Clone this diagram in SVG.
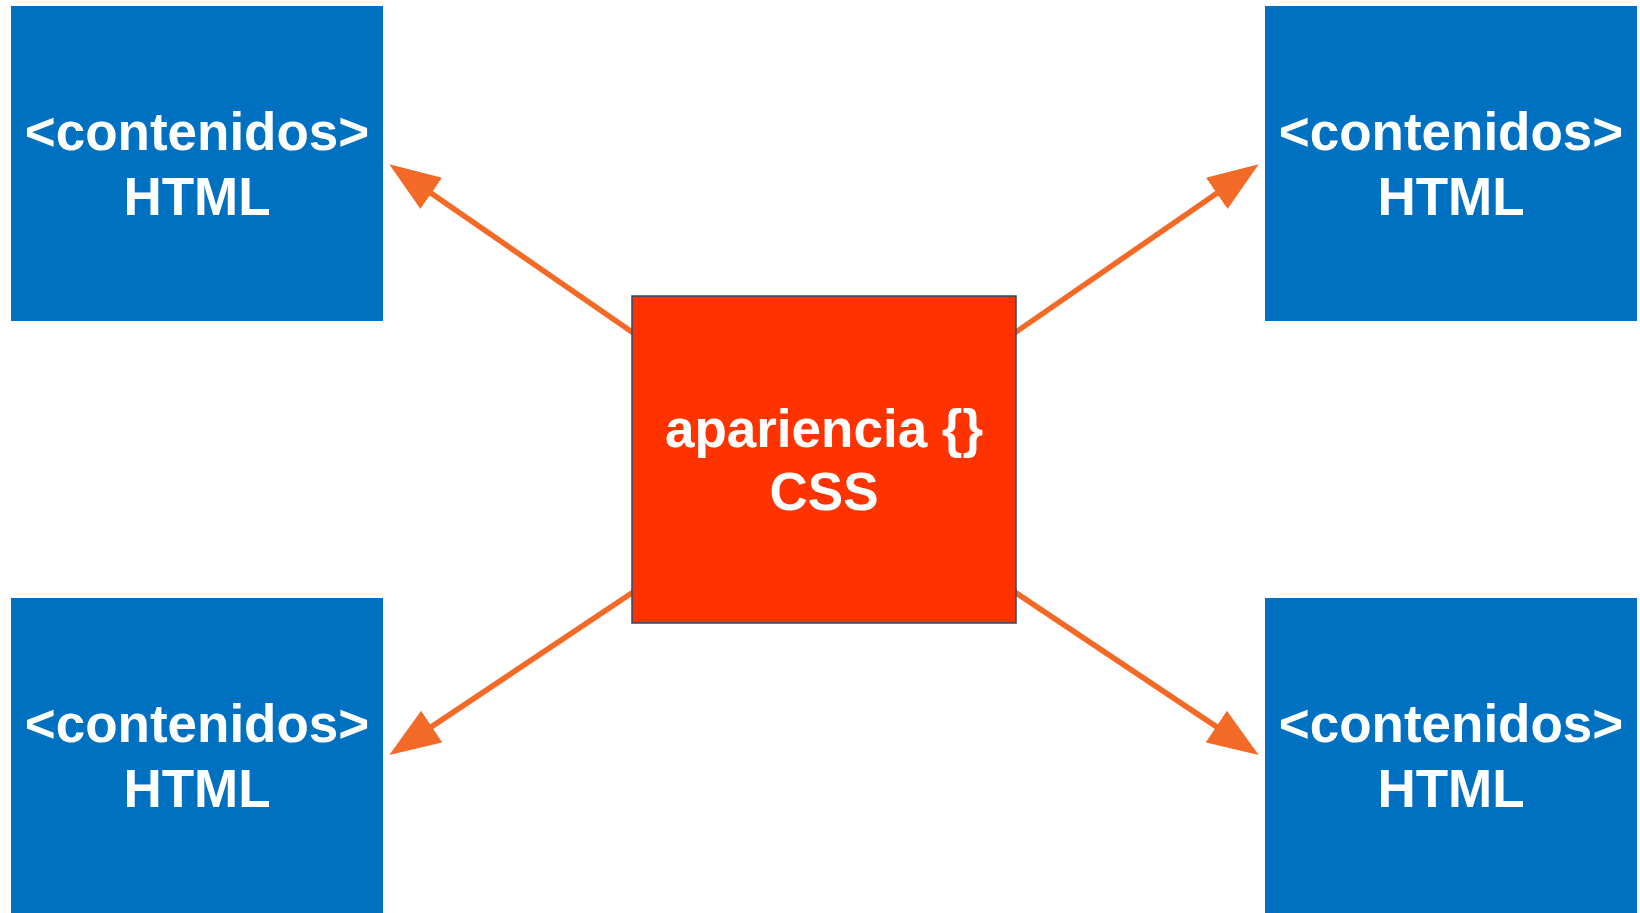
<svg xmlns="http://www.w3.org/2000/svg" width="1640" height="913" viewBox="0 0 1640 913">
  <defs>
    <style>
      .html { fill: #0070C0; }
      .css { fill: #FF3300; stroke: #1F4E79; stroke-width: 1.5; }
      .lbl { font-family: "Liberation Sans", Arial, sans-serif; font-weight: bold; font-size: 53px; fill: #FFFFFF; text-anchor: middle; }
      .conn { stroke: #F36A26; stroke-width: 5.5; fill: none; marker-end: url(#arrow); }
    </style>
    <marker id="arrow" markerUnits="userSpaceOnUse" viewBox="0 -20 52 40" markerWidth="52" markerHeight="40" refX="41" refY="0" orient="auto">
      <path d="M0,-19 L51,0 L0,19 z" fill="#F36A26"/>
    </marker>
  </defs>
  <rect width="1640" height="913" fill="#FFFFFF"/>

  <g id="connectors">
    <line class="conn" x1="640" y1="337.5" x2="397.5" y2="170.0"/>
    <line class="conn" x1="1008" y1="337.5" x2="1250.5" y2="170.0"/>
    <line class="conn" x1="640" y1="587.5" x2="397.6" y2="749.4"/>
    <line class="conn" x1="1008" y1="587.5" x2="1250.4" y2="749.4"/>
  </g>

  <g id="html-top-left">
    <rect class="html" x="11" y="6" width="372" height="315"/>
    <text class="lbl" x="197" y="150">&lt;contenidos&gt;</text>
    <text class="lbl" x="197" y="215">HTML</text>
  </g>
  <g id="html-top-right">
    <rect class="html" x="1265" y="6" width="372" height="315"/>
    <text class="lbl" x="1451" y="150">&lt;contenidos&gt;</text>
    <text class="lbl" x="1451" y="215">HTML</text>
  </g>
  <g id="html-bottom-left">
    <rect class="html" x="11" y="598" width="372" height="315"/>
    <text class="lbl" x="197" y="742">&lt;contenidos&gt;</text>
    <text class="lbl" x="197" y="807">HTML</text>
  </g>
  <g id="html-bottom-right">
    <rect class="html" x="1265" y="598" width="372" height="315"/>
    <text class="lbl" x="1451" y="742">&lt;contenidos&gt;</text>
    <text class="lbl" x="1451" y="807">HTML</text>
  </g>
  <g id="css-center">
    <rect class="css" x="632" y="296" width="384" height="327"/>
    <text class="lbl" x="824" y="447">apariencia {}</text>
    <text class="lbl" x="824" y="510">CSS</text>
  </g>
</svg>
